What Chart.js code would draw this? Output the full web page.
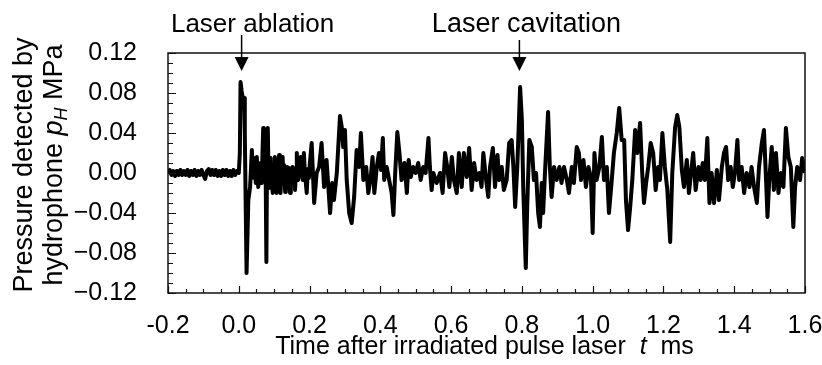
<!DOCTYPE html>
<html>
<head>
<meta charset="utf-8">
<script src="https://cdn.jsdelivr.net/npm/chart.js@4.4.1/dist/chart.umd.min.js"></script>
<style>
  body { margin: 0; background: #fff; overflow: hidden; }
</style>
</head>
<body>
<canvas id="pressureChart" width="822" height="365"></canvas>
<script>
//**********************Chart Data*******************************************
// time after the laser pulse, ms
var times = [
  -0.200, -0.195, -0.190, -0.185, -0.180, -0.175, -0.170, -0.165, -0.160, -0.155,
  -0.150, -0.145, -0.140, -0.135, -0.130, -0.125, -0.120, -0.115, -0.110, -0.105,
  -0.100, -0.095, -0.090, -0.085, -0.080, -0.075, -0.070, -0.065, -0.060, -0.055,
  -0.050, -0.045, -0.040, -0.035, -0.030, -0.025, -0.020, -0.015, -0.010, -0.005,
  0.000, 0.003, 0.005, 0.008, 0.011, 0.015, 0.017, 0.022, 0.027, 0.032,
  0.037, 0.039, 0.041, 0.043, 0.046, 0.048, 0.051, 0.053, 0.055, 0.058,
  0.060, 0.062, 0.065, 0.067, 0.069, 0.071, 0.072, 0.073, 0.075, 0.078,
  0.080, 0.082, 0.084, 0.085, 0.088, 0.090, 0.093, 0.096, 0.098, 0.100,
  0.102, 0.104, 0.107, 0.109, 0.111, 0.114, 0.116, 0.118, 0.121, 0.124,
  0.126, 0.128, 0.131, 0.133, 0.135, 0.137, 0.140, 0.142, 0.145, 0.147,
  0.150, 0.152, 0.155, 0.157, 0.159, 0.162, 0.164, 0.166, 0.168, 0.171,
  0.173, 0.175, 0.178, 0.181, 0.184, 0.186, 0.189, 0.192, 0.195, 0.198,
  0.201, 0.206, 0.213, 0.220, 0.227, 0.234, 0.241, 0.248, 0.258,
  0.264, 0.269, 0.277, 0.286, 0.291, 0.295, 0.300, 0.305, 0.312, 0.319,
  0.326, 0.333, 0.340, 0.345, 0.352, 0.360, 0.366, 0.373, 0.378, 0.383,
  0.390, 0.396, 0.402, 0.407, 0.411, 0.418, 0.425, 0.432, 0.437, 0.442,
  0.448, 0.454, 0.460, 0.468, 0.475, 0.480, 0.486, 0.493, 0.500, 0.507,
  0.514, 0.521, 0.528, 0.536, 0.540, 0.545, 0.550, 0.559, 0.569, 0.576,
  0.583, 0.589, 0.595, 0.602, 0.608, 0.616, 0.622, 0.630, 0.636, 0.644,
  0.651, 0.658, 0.665, 0.672, 0.680, 0.686, 0.691, 0.699, 0.705, 0.710,
  0.718, 0.724, 0.731, 0.736, 0.743, 0.749, 0.757, 0.764, 0.771, 0.776,
  0.781, 0.787, 0.795, 0.800, 0.804, 0.811, 0.815, 0.821, 0.828, 0.834,
  0.840, 0.846, 0.851, 0.856, 0.860, 0.866, 0.874, 0.879, 0.884, 0.891,
  0.898, 0.906, 0.912, 0.919, 0.927, 0.933, 0.941, 0.947, 0.955, 0.961,
  0.967, 0.974, 0.981, 0.988, 0.995, 1.000, 1.005, 1.011, 1.019, 1.026,
  1.032, 1.040, 1.046, 1.054, 1.060, 1.068, 1.075, 1.082, 1.089, 1.094,
  1.100, 1.106, 1.112, 1.120, 1.126, 1.134, 1.140, 1.145, 1.151, 1.157,
  1.164, 1.171, 1.178, 1.185, 1.190, 1.197, 1.204, 1.211, 1.219, 1.225,
  1.233, 1.239, 1.245, 1.252, 1.258, 1.266, 1.272, 1.278, 1.284, 1.291,
  1.299, 1.305, 1.311, 1.317, 1.324, 1.330, 1.336, 1.343, 1.351, 1.357,
  1.365, 1.371, 1.377, 1.383, 1.390, 1.396, 1.402, 1.409, 1.414, 1.421,
  1.428, 1.435, 1.443, 1.449, 1.456, 1.464, 1.470, 1.478, 1.484, 1.490,
  1.494, 1.499, 1.506, 1.512, 1.518, 1.525, 1.532, 1.539, 1.546, 1.553,
  1.560, 1.567, 1.572, 1.578, 1.586, 1.592, 1.600
];

// hydrophone pressure p_H, MPa
var pressures = [
  0.000, 0.003, -0.002, 0.002, -0.003, 0.002, -0.002, 0.003, -0.002, 0.002,
  -0.002, 0.003, -0.003, 0.002, -0.002, 0.003, -0.003, 0.002, -0.002, 0.003,
  -0.002, -0.006, 0.002, 0.004, -0.002, 0.003, -0.002, 0.003, -0.003, 0.002,
  -0.003, 0.003, -0.002, 0.003, -0.003, 0.002, -0.003, 0.003, -0.002, 0.002,
  0.000, 0.020, 0.091, 0.082, 0.076, 0.075, 0.040, -0.100, -0.027, -0.014,
  0.023, 0.005, 0.015, -0.005, 0.010, -0.010, 0.016, -0.004, -0.014, 0.008,
  -0.006, 0.010, -0.010, 0.020, 0.045, 0.010, 0.030, 0.000, 0.043, -0.089,
  0.020, 0.045, 0.000, -0.015, 0.010, 0.015, -0.010, -0.020, 0.005, -0.008,
  0.016, -0.010, -0.020, 0.008, -0.005, 0.018, -0.010, -0.020, 0.010, 0.016,
  -0.008, 0.008, -0.019, 0.000, -0.012, 0.006, -0.015, 0.005, -0.020, 0.002,
  -0.010, 0.006, -0.008, 0.004, -0.017, 0.005, 0.020, 0.002, -0.007, 0.010,
  -0.002, 0.016, 0.000, -0.007, 0.020, 0.005, -0.008, -0.020, 0.004, -0.005,
  0.010, 0.030, -0.030, 0.000, 0.006, 0.030, -0.014, 0.013, -0.040,
  -0.010, -0.027, 0.000, 0.057, 0.046, 0.026, 0.043, -0.007, -0.040, -0.050,
  -0.024, 0.023, 0.006, 0.040, -0.007, 0.006, -0.020, -0.004, 0.016, -0.020,
  0.006, 0.020, 0.003, 0.035, -0.007, 0.006, -0.007, -0.020, -0.042, 0.000,
  0.041, 0.020, -0.007, 0.010, -0.020, 0.013, -0.004, 0.006, 0.000, 0.010,
  -0.007, 0.006, 0.000, 0.035, 0.006, -0.017, 0.000, -0.010, 0.000, -0.020,
  0.020, 0.006, -0.014, 0.016, -0.007, -0.020, 0.020, -0.014, 0.020, -0.004,
  0.025, -0.017, 0.010, -0.007, 0.000, -0.014, 0.020, -0.007, -0.024, 0.006,
  0.025, -0.014, 0.018, -0.007, 0.006, -0.017, -0.007, 0.030, 0.033, 0.006,
  -0.034, 0.006, 0.086, 0.053, -0.017, -0.095, -0.034, 0.033, 0.026, -0.007,
  0.000, -0.040, -0.054, -0.010, -0.040, 0.006, 0.061, 0.006, -0.024, 0.006,
  -0.007, 0.006, -0.010, 0.006, -0.007, -0.020, 0.006, -0.010, 0.026, 0.020,
  -0.007, 0.013, -0.014, 0.006, -0.004, -0.060, 0.020, -0.007, 0.006, 0.036,
  -0.007, 0.006, -0.040, -0.007, 0.020, 0.040, 0.065, 0.033, 0.033, -0.027,
  -0.057, -0.034, -0.007, 0.043, 0.020, 0.050, 0.000, -0.030, -0.010, 0.006,
  0.030, 0.020, -0.017, 0.006, -0.007, 0.040, 0.006, -0.017, -0.069, 0.000,
  0.046, 0.058, 0.046, 0.003, -0.014, 0.013, -0.020, 0.000, 0.020, -0.017,
  0.006, -0.007, 0.010, -0.007, 0.035, -0.030, 0.000, -0.030, 0.003, -0.027,
  0.006, 0.020, 0.026, -0.007, 0.006, -0.014, 0.000, 0.033, -0.007, 0.006,
  -0.020, 0.000, -0.014, 0.006, -0.014, -0.030, 0.006, 0.030, 0.043, -0.007,
  -0.044, -0.007, 0.026, -0.017, 0.020, -0.020, 0.000, -0.014, 0.045, 0.016,
  0.006, -0.054, -0.014, 0.006, -0.007, 0.015, 0.000
];

// axis ranges and labels
var xRange = [-0.2, 1.6];
var yRange = [-0.12, 0.12];
var xTickStep = 0.2;
var yTickStep = 0.04;

// arrows marking the two events
var eventLabels = ['Laser ablation', 'Laser cavitation'];
var eventTimes = [0.008, 0.793];

var fontName = '"Liberation Sans", Arial, sans-serif';

var points = [];
for (var i = 0; i < times.length; i++) {
  points.push({x: times[i], y: pressures[i]});
}

// frame, inside ticks, arrows and axis titles
var extrasPlugin = {
  id: 'extras',
  afterDraw: function(chart) {
    var ctx = chart.ctx;
    var area = chart.chartArea;
    var xs = chart.scales.x;
    var ys = chart.scales.y;
    ctx.save();

    // frame
    ctx.strokeStyle = '#111';
    ctx.lineWidth = 1.5;
    ctx.strokeRect(area.left, area.top, area.right - area.left, area.bottom - area.top);

    // x ticks, minor every 0.05
    ctx.lineWidth = 1.2;
    ctx.beginPath();
    for (var k = 0; k <= 36; k++) {
      var px = Math.round(xs.getPixelForValue(xRange[0] + k * 0.05)) + 0.5;
      var len = (k % 4 === 0) ? 7 : 4;
      ctx.moveTo(px, area.bottom);
      ctx.lineTo(px, area.bottom - len);
    }
    // y ticks, minor every 0.01
    for (var j = 0; j <= 24; j++) {
      var py = Math.round(ys.getPixelForValue(yRange[0] + j * 0.01)) + 0.5;
      var ylen = (j % 4 === 0) ? 8 : 5;
      ctx.moveTo(area.left, py);
      ctx.lineTo(area.left + ylen, py);
    }
    ctx.stroke();

    // event arrows
    ctx.fillStyle = '#000';
    ctx.strokeStyle = '#000';
    ctx.textAlign = 'center';
    ctx.textBaseline = 'alphabetic';
    var textShift = [11, 7];
    var textSize = [26, 27];
    var lineStart = [35, 40];
    for (var e = 0; e < eventTimes.length; e++) {
      var ax = xs.getPixelForValue(eventTimes[e]);
      ctx.font = textSize[e] + 'px ' + fontName;
      ctx.fillText(eventLabels[e], ax + textShift[e], 32);
      ctx.lineWidth = 1.5;
      ctx.beginPath();
      ctx.moveTo(ax, lineStart[e]);
      ctx.lineTo(ax, 58);
      ctx.stroke();
      ctx.beginPath();
      ctx.moveTo(ax - 7, 57);
      ctx.lineTo(ax + 7, 57);
      ctx.lineTo(ax, 71);
      ctx.closePath();
      ctx.fill();
    }

    // x axis title with italic t
    var cx = (area.left + area.right) / 2;
    var parts = [
      {text: 'Time after irradiated pulse laser  ', font: '25px ' + fontName},
      {text: 't', font: 'italic 25px ' + fontName},
      {text: '  ms', font: '25px ' + fontName}
    ];
    drawParts(ctx, parts, cx - 2, 354);

    // y axis title, two lines, rotated
    var cy = (area.top + area.bottom) / 2 - 8;
    ctx.save();
    ctx.translate(32, cy);
    ctx.rotate(-Math.PI / 2);
    drawParts(ctx, [{text: 'Pressure detected by', font: '27px ' + fontName}], 0, 0);
    ctx.restore();
    ctx.save();
    ctx.translate(62, cy);
    ctx.rotate(-Math.PI / 2);
    drawParts(ctx, [
      {text: 'hydrophone ', font: '27px ' + fontName},
      {text: 'p', font: 'italic 27px ' + fontName},
      {text: 'H', font: 'italic 18px ' + fontName, dy: 5},
      {text: ' MPa', font: '27px ' + fontName}
    ], 0, 0);
    ctx.restore();

    ctx.restore();
  }
};

// draws text pieces in a row, centred on x
function drawParts(ctx, parts, x, y) {
  var total = 0;
  for (var i = 0; i < parts.length; i++) {
    ctx.font = parts[i].font;
    total += ctx.measureText(parts[i].text).width;
  }
  var pos = x - total / 2;
  ctx.textAlign = 'left';
  ctx.textBaseline = 'alphabetic';
  ctx.fillStyle = '#000';
  for (var p = 0; p < parts.length; p++) {
    ctx.font = parts[p].font;
    ctx.fillText(parts[p].text, pos, y + (parts[p].dy || 0));
    pos += ctx.measureText(parts[p].text).width;
  }
}

function drawChart() {
  var canvas = document.getElementById('pressureChart');
  var pressureChart = new Chart(canvas, {
    type: 'line',
    data: {
      datasets: [{
        data: points,
        borderColor: '#000',
        borderWidth: 4,
        borderJoinStyle: 'round',
        pointRadius: 0,
        tension: 0,
        fill: false
      }]
    },
    options: {
      responsive: false,
      animation: false,
      layout: {padding: {top: 53, right: 17, left: 0, bottom: 0}},
      plugins: {legend: {display: false}, tooltip: {enabled: false}},
      scales: {
        x: {
          type: 'linear',
          min: xRange[0],
          max: xRange[1],
          grid: {display: false, drawTicks: false},
          border: {display: false},
          ticks: {
            stepSize: xTickStep,
            autoSkip: false,
            maxRotation: 0,
            padding: 18,
            color: '#000',
            font: {family: fontName, size: 25},
            callback: function(v) { return v.toFixed(1); }
          },
          afterFit: function(scale) {
            scale.height = 72;
            scale.paddingLeft = 0;
            scale.paddingRight = 0;
          }
        },
        y: {
          min: yRange[0],
          max: yRange[1],
          grid: {display: false, drawTicks: false},
          border: {display: false},
          ticks: {
            stepSize: yTickStep,
            padding: 31,
            color: '#000',
            font: {family: fontName, size: 25},
            callback: function(v) {
              if (Math.abs(v) < 1e-9) return '0.00';
              return (v < 0 ? '\u2212' : '') + Math.abs(v).toFixed(2);
            }
          },
          afterFit: function(scale) {
            scale.width = 168;
            scale.paddingTop = 0;
            scale.paddingBottom = 0;
          }
        }
      }
    },
    plugins: [extrasPlugin]
  });
}
drawChart();
</script>
</body>
</html>
